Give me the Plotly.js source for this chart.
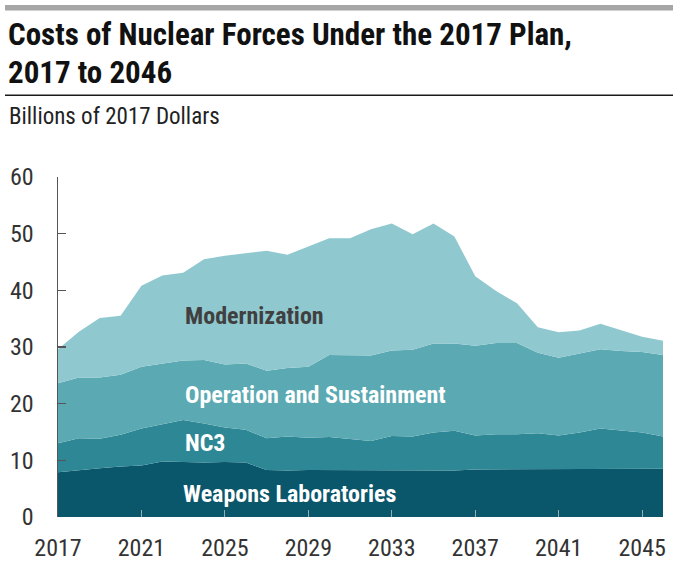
<!DOCTYPE html>
<html>
<head>
<meta charset="utf-8">
<script src="https://cdn.plot.ly/plotly-3.0.1.min.js"></script>
<style>html,body{margin:0;padding:0;background:#fff;}#chart{width:681px;height:563px;}</style>
</head>
<body>
<div id="chart"></div>
<script>
const years = [2017,2018,2019,2020,2021,2022,2023,2024,2025,2026,2027,2028,2029,2030,2031,2032,2033,2034,2035,2036,2037,2038,2039,2040,2041,2042,2043,2044,2045,2046];
const weaponsLabs = [7.9,8.3,8.6,8.9,9.1,9.8,9.7,9.6,9.7,9.6,8.3,8.2,8.3,8.3,8.3,8.2,8.2,8.2,8.2,8.2,8.4,8.4,8.4,8.4,8.4,8.4,8.4,8.5,8.5,8.5];
const nc3 = [5.1,5.6,5.2,5.6,6.5,6.6,7.4,6.9,6.1,5.8,5.6,6.0,5.7,5.8,5.4,5.2,6.1,6.0,6.7,7.0,6.0,6.2,6.2,6.4,6.0,6.5,7.2,6.7,6.4,5.7];
const operation = [10.6,10.7,10.8,10.6,10.9,10.7,10.5,11.2,11.1,11.7,11.9,12.1,12.5,14.5,14.9,15.1,15.1,15.3,15.7,15.4,15.8,16.1,16.1,14.2,13.7,13.9,14.0,14.1,14.2,14.4];
const modernization = [6.0,8.1,10.5,10.4,14.3,15.5,15.5,17.8,19.2,19.5,21.2,20.0,21.3,20.6,20.6,22.3,22.4,20.4,21.2,18.9,12.3,9.2,7.0,4.5,4.5,4.1,4.5,3.6,2.7,2.5];
const seriesNames = ["Weapons Laboratories","NC3","Operation and Sustainment","Modernization"];
const xTicks = [2017,2021,2025,2029,2033,2037,2041,2045];
const yTicks = [0,10,20,30,40,50,60];
const titleLines = ["Costs of Nuclear Forces Under the 2017 Plan,", "2017 to 2046"];
const subtitle = "Billions of 2017 Dollars";

const colors = ["#0a566b","#2e8795","#5ba9b3","#8fc8cf"];
const allSeries = [weaponsLabs, nc3, operation, modernization];
const traces = allSeries.map((vals, i) => ({
  x: years, y: vals, name: seriesNames[i], type: "scatter", mode: "lines",
  stackgroup: "one", line: {width: 0, color: colors[i]}, fillcolor: colors[i],
  hoverinfo: "x+y+name"
}));

const narrow = "Liberation Sans Narrow, Arial Narrow, Roboto Condensed, Roboto, sans-serif";
// plot area: x 58..663 px, y 177..517 px
const py = p => (517 - p) / 340;
const px = p => (p - 58) / 605;
const layout = {
  width: 681, height: 563,
  margin: {l: 58, r: 18, t: 177, b: 46},
  paper_bgcolor: "#fff", plot_bgcolor: "#fff",
  showlegend: false,
  xaxis: {
    range: [2017, 2046], tickvals: xTicks, ticktext: xTicks.map(String),
    ticks: "inside", ticklen: 7, tickcolor: "rgba(210,210,210,0.7)", tickwidth: 1,
    showgrid: false, zeroline: false, showline: false,
    ticklabelstandoff: 14,
    tickfont: {family: narrow, size: 24, color: "#333"}
  },
  yaxis: {
    range: [0, 60], tickvals: yTicks, ticktext: yTicks.map(String),
    ticks: "inside", ticklen: 8, tickcolor: "#555", tickwidth: 1.5,
    showgrid: false, zeroline: false, showline: true, linecolor: "#555", linewidth: 1.5,
    ticklabelstandoff: 18,
    tickfont: {family: narrow, size: 24, color: "#333"}
  },
  shapes: [
    {type: "rect", xref: "paper", yref: "paper", x0: px(5), x1: px(673), y0: py(10.5), y1: py(5), fillcolor: "#a6a6a6", line: {width: 0}},
    {type: "rect", xref: "paper", yref: "paper", x0: px(5), x1: px(673), y0: py(96), y1: py(94.6), fillcolor: "#1a1a1a", line: {width: 0}}
  ],
  annotations: [
    {text: titleLines[0], xref: "paper", yref: "paper", x: px(6), y: py(35), xanchor: "left", yanchor: "middle", showarrow: false, font: {family: narrow, size: 31, color: "#111", weight: 700}},
    {text: titleLines[1], xref: "paper", yref: "paper", x: px(6), y: py(73), xanchor: "left", yanchor: "middle", showarrow: false, font: {family: narrow, size: 31, color: "#111", weight: 700}},
    {text: subtitle, xref: "paper", yref: "paper", x: px(7), y: py(117), xanchor: "left", yanchor: "middle", showarrow: false, font: {family: narrow, size: 23, color: "#222"}},
    {text: "Modernization", xref: "x", yref: "y", x: 2023.0, y: 35.5, xanchor: "left", yanchor: "middle", showarrow: false, font: {family: narrow, size: 24, color: "#404040", weight: 700}},
    {text: "Operation and Sustainment", xref: "x", yref: "y", x: 2023.0, y: 21.5, xanchor: "left", yanchor: "middle", showarrow: false, font: {family: narrow, size: 24, color: "#ffffff", weight: 700}},
    {text: "NC3", xref: "x", yref: "y", x: 2023.0, y: 13.1, xanchor: "left", yanchor: "middle", showarrow: false, font: {family: narrow, size: 24, color: "#ffffff", weight: 700}},
    {text: "Weapons Laboratories", xref: "x", yref: "y", x: 2022.9, y: 4.1, xanchor: "left", yanchor: "middle", showarrow: false, font: {family: narrow, size: 24, color: "#ffffff", weight: 700}}
  ]
};
Plotly.newPlot("chart", traces, layout, {displayModeBar: false, staticPlot: true});
</script>
</body>
</html>
